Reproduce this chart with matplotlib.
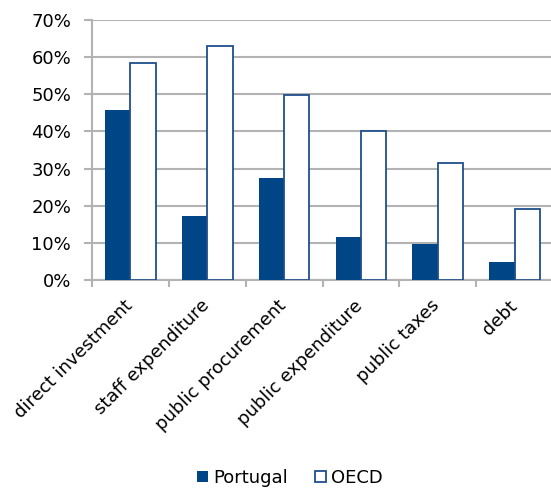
import matplotlib
matplotlib.use("Agg")
import matplotlib.pyplot as plt
import numpy as np
from matplotlib.ticker import PercentFormatter, FixedLocator

# shares by area, Portugal vs OECD average
categories = ["direct investment", "staff expenditure", "public procurement",
              "public expenditure", "public taxes", "debt"]
portugal = [45.8, 17.2, 27.4, 11.7, 9.6, 4.9]
oecd = [58.5, 63.1, 49.7, 40.1, 31.5, 19.1]

plt.rcParams['font.family'] = ['DejaVu Sans']
grid_col = '#b3b3b3'
blue = '#004586'

fig = plt.figure(figsize=(5.51, 4.9), dpi=100)
ax = fig.add_axes([92/551, 1-280/490, 461/551, 260/490])

x = np.arange(len(categories))
w = 0.33
ax.bar(x - w/2, portugal, w, color=blue, label='Portugal', zorder=3)
ax.bar(x + w/2, oecd, w, facecolor='white', edgecolor='#1f4e8c', linewidth=1.3,
       label='OECD', zorder=3)

ax.set_xlim(-0.5, len(categories) - 0.5)
ax.set_ylim(0, 70)
ax.set_yticks(np.arange(0, 71, 10))
ax.yaxis.set_major_formatter(PercentFormatter(decimals=0))
ax.yaxis.grid(True, color=grid_col, linewidth=1.5, zorder=0)

# label anchors sit slightly left of the group centres (the tick itself is hidden)
ax.set_xticks(x - 0.09)
ax.set_xticklabels(categories, rotation=45, ha='right', rotation_mode='anchor')
ax.xaxis.set_minor_locator(FixedLocator(np.arange(-0.5, len(categories), 1)))
ax.tick_params(axis='x', which='major', length=0, pad=12, labelsize=13, colors='#000000')
ax.tick_params(axis='x', which='minor', length=5, width=1.5, color=grid_col)
ax.tick_params(axis='y', length=6, width=1.5, color=grid_col, labelsize=13, pad=9)

for s in ['top', 'right']:
    ax.spines[s].set_visible(False)
for s in ['left', 'bottom']:
    ax.spines[s].set_color(grid_col)
    ax.spines[s].set_linewidth(1.5)

fig.legend(loc='center', bbox_to_anchor=(290/551, 1-478/490), ncol=2, frameon=False,
           fontsize=13, handlelength=0.6, handleheight=0.6, handletextpad=0.3,
           columnspacing=1.5)

fig.savefig('out.png', dpi=100)
